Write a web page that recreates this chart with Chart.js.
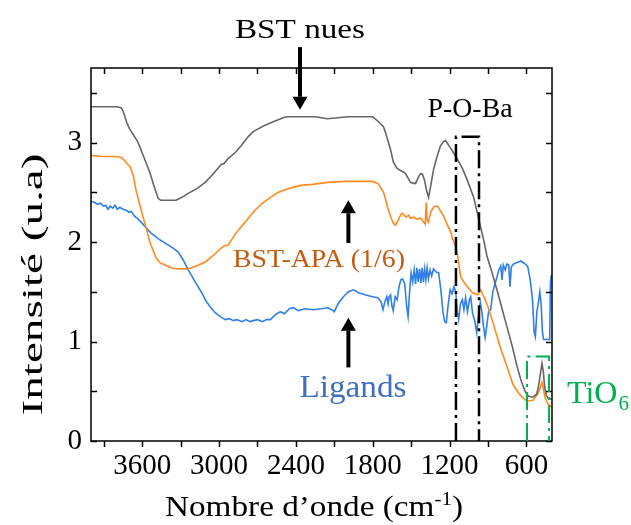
<!DOCTYPE html>
<html>
<head>
<meta charset="utf-8">
<script src="https://cdn.jsdelivr.net/npm/chart.js@4.4.1/dist/chart.umd.min.js"></script>
<style>
	html, body { margin: 0; padding: 0; background: #fff; }
</style>
</head>
<body>
<canvas id="graph" width="631" height="525"></canvas>
<script>
// wavenumbers (cm-1) and intensities
const wnNues = [4000, 3900, 3800, 3765, 3750, 3720, 3700, 3680, 3660, 3632, 3580, 3538, 3500, 3476, 3455, 3400, 3335, 3290, 3241, 3170, 3108, 3050, 2983, 2960, 2930, 2873, 2820, 2772, 2733, 2650, 2576, 2500, 2467, 2365, 2250, 2154, 2110, 2000, 1896, 1800, 1755, 1716, 1700, 1677, 1661, 1638, 1610, 1583, 1545, 1505, 1480, 1465, 1440, 1426, 1411, 1395, 1380, 1364, 1345, 1325, 1300, 1270, 1246, 1231, 1200, 1150, 1100, 1064, 1012, 970, 930, 908, 870, 830, 790, 752, 710, 673, 640, 610, 583, 550, 520, 505, 490, 478, 468, 458, 445, 430, 400];
const intNues = [3.36, 3.36, 3.36, 3.35, 3.32, 3.20, 3.14, 3.10, 3.06, 3.0, 2.83, 2.69, 2.53, 2.44, 2.42, 2.42, 2.42, 2.45, 2.49, 2.54, 2.60, 2.68, 2.78, 2.79, 2.84, 2.90, 2.98, 3.06, 3.11, 3.17, 3.21, 3.25, 3.26, 3.26, 3.26, 3.24, 3.245, 3.26, 3.26, 3.26, 3.21, 3.16, 3.10, 3.0, 2.93, 2.80, 2.74, 2.72, 2.69, 2.60, 2.59, 2.59, 2.66, 2.69, 2.68, 2.62, 2.52, 2.45, 2.58, 2.73, 2.85, 2.97, 3.01, 3.02, 2.96, 2.86, 2.74, 2.63, 2.45, 2.22, 2.0, 1.86, 1.70, 1.52, 1.33, 1.15, 0.95, 0.75, 0.60, 0.50, 0.45, 0.44, 0.47, 0.55, 0.68, 0.78, 0.70, 0.55, 0.46, 0.43, 0.42];

const wnApa = [4000, 3900, 3800, 3765, 3745, 3720, 3695, 3670, 3648, 3620, 3593, 3565, 3538, 3510, 3491, 3460, 3421, 3370, 3319, 3260, 3218, 3160, 3108, 3050, 2983, 2960, 2928, 2890, 2850, 2810, 2772, 2720, 2662, 2600, 2537, 2450, 2365, 2271, 2154, 2013, 1896, 1802, 1760, 1739, 1716, 1700, 1680, 1661, 1640, 1622, 1600, 1580, 1567, 1540, 1520, 1505, 1480, 1460, 1426, 1400, 1390, 1382, 1375, 1365, 1345, 1320, 1293, 1270, 1246, 1220, 1191, 1176, 1150, 1137, 1113, 1074, 1020, 981, 957, 935, 900, 861, 806, 752, 705, 660, 634, 595, 548, 509, 490, 478, 468, 455, 430, 400];
const intApa = [2.87, 2.86, 2.86, 2.85, 2.83, 2.79, 2.76, 2.67, 2.52, 2.38, 2.25, 2.12, 1.99, 1.90, 1.84, 1.79, 1.77, 1.74, 1.73, 1.73, 1.74, 1.77, 1.80, 1.86, 1.94, 1.96, 1.97, 2.05, 2.12, 2.18, 2.24, 2.32, 2.39, 2.45, 2.50, 2.54, 2.57, 2.58, 2.60, 2.61, 2.61, 2.61, 2.59, 2.55, 2.50, 2.43, 2.33, 2.26, 2.19, 2.17, 2.22, 2.28, 2.29, 2.25, 2.27, 2.24, 2.25, 2.23, 2.24, 2.20, 2.18, 2.40, 2.22, 2.20, 2.31, 2.36, 2.36, 2.31, 2.26, 2.18, 2.10, 2.03, 1.95, 1.86, 1.65, 1.57, 1.49, 1.47, 1.52, 1.46, 1.35, 1.19, 0.95, 0.75, 0.57, 0.48, 0.44, 0.40, 0.41, 0.48, 0.54, 0.59, 0.53, 0.44, 0.37, 0.34];

const wnLig = [4000, 3975, 3950, 3925, 3900, 3885, 3867, 3850, 3830, 3812, 3795, 3775, 3750, 3725, 3705, 3687, 3660, 3640, 3609, 3580, 3560, 3531, 3500, 3470, 3421, 3370, 3319, 3280, 3241, 3200, 3163, 3130, 3108, 3070, 3030, 2990, 2952, 2920, 2889, 2860, 2820, 2790, 2760, 2733, 2700, 2660, 2630, 2600, 2560, 2521, 2490, 2450, 2420, 2380, 2330, 2263, 2200, 2154, 2120, 2100, 2070, 2029, 1990, 1950, 1911, 1860, 1802, 1760, 1735, 1720, 1705, 1690, 1680, 1672, 1661, 1650, 1640, 1625, 1610, 1595, 1580, 1567, 1550, 1535, 1524, 1512, 1500, 1488, 1476, 1466, 1455, 1445, 1434, 1424, 1414, 1404, 1394, 1385, 1375, 1365, 1352, 1340, 1325, 1305, 1285, 1268, 1252, 1238, 1225, 1212, 1195, 1180, 1165, 1152, 1140, 1129, 1115, 1100, 1088, 1075, 1060, 1045, 1035, 1020, 1005, 988, 975, 960, 948, 935, 922, 910, 895, 879, 862, 845, 830, 815, 800, 790, 780, 765, 752, 738, 728, 718, 700, 683, 660, 644, 620, 600, 589, 570, 552, 540, 530, 518, 505, 495, 485, 475, 466, 450, 430, 418, 412, 405, 400];
const intLig = [2.41, 2.40, 2.38, 2.39, 2.36, 2.37, 2.33, 2.36, 2.34, 2.37, 2.33, 2.35, 2.33, 2.32, 2.30, 2.31, 2.26, 2.24, 2.20, 2.16, 2.13, 2.09, 2.06, 2.03, 1.99, 1.95, 1.90, 1.82, 1.72, 1.63, 1.55, 1.48, 1.42, 1.35, 1.29, 1.25, 1.22, 1.23, 1.21, 1.22, 1.20, 1.22, 1.20, 1.21, 1.22, 1.20, 1.22, 1.22, 1.27, 1.30, 1.28, 1.33, 1.34, 1.31, 1.33, 1.32, 1.33, 1.34, 1.32, 1.30, 1.38, 1.45, 1.50, 1.52, 1.49, 1.47, 1.45, 1.44, 1.40, 1.32, 1.40, 1.45, 1.38, 1.45, 1.47, 1.36, 1.31, 1.45, 1.42, 1.55, 1.62, 1.63, 1.58, 1.35, 1.25, 1.50, 1.69, 1.60, 1.72, 1.58, 1.74, 1.60, 1.73, 1.59, 1.74, 1.60, 1.73, 1.62, 1.74, 1.63, 1.72, 1.66, 1.73, 1.70, 1.69, 1.52, 1.30, 1.20, 1.19, 1.36, 1.52, 1.48, 1.55, 1.50, 1.30, 1.22, 1.38, 1.42, 1.32, 1.44, 1.30, 1.42, 1.45, 1.28, 1.22, 1.09, 1.25, 1.39, 1.30, 1.15, 1.04, 1.15, 1.30, 1.32, 1.50, 1.58, 1.65, 1.72, 1.76, 1.62, 1.77, 1.72, 1.78, 1.77, 1.55, 1.75, 1.78, 1.79, 1.80, 1.81, 1.79, 1.77, 1.75, 1.62, 1.42, 1.10, 1.05, 1.30, 1.40, 1.50, 1.38, 1.10, 1.02, 1.02, 1.02, 1.02, 1.60, 1.66, 1.67];

const xTickValues = [600, 900, 1200, 1500, 1800, 2100, 2400, 2700, 3000, 3300, 3600, 3900];
const yTickValues = [0, 0.5, 1, 1.5, 2, 2.5, 3, 3.5];

// annotations, in data units
const labels = [
	{ text: 'BST nues', w: 2368, v: 4.05, size: 28, width: 130, color: '#000' },
	{ text: 'P-O-Ba', w: 1040, v: 3.26, size: 28, width: 85, color: '#000' },
	{ text: 'BST-APA (1/6)', w: 2220, v: 1.75, size: 26, width: 172, color: '#C55A11' },
	{ text: 'Ligands', w: 1954, v: 0.44, size: 32, width: 107, color: '#3F6FBF' },
];
const arrows = [
	{ w: 2368, from: 3.96, to: 3.33 },
	{ w: 1990, from: 1.99, to: 2.42 },
	{ w: 1990, from: 0.74, to: 1.24 },
];
const boxes = [
	{ w1: 1150, w2: 970, top: 3.06, color: '#000', lw: 2.5 },
	{ w1: 595, w2: 423, top: 0.85, color: '#00B050', lw: 2 },
];

const SERIF = '"Liberation Serif", "Times New Roman", serif';

const pts = (xs, ys) => xs.map((x, i) => ({ x: x, y: ys[i] }));

function stretchText(ctx, str, x, y, size, width, align) {
	ctx.font = size + 'px ' + SERIF;
	const nat = ctx.measureText(str).width;
	ctx.save();
	ctx.translate(x, y);
	ctx.scale(width / nat, 1);
	ctx.textAlign = align || 'center';
	ctx.textBaseline = 'alphabetic';
	ctx.fillText(str, 0, 0);
	ctx.restore();
}

function arrow(ctx, x, y0, y1) {
	const dir = y1 > y0 ? 1 : -1;
	const head = 13;
	ctx.save();
	ctx.strokeStyle = '#000';
	ctx.fillStyle = '#000';
	ctx.lineWidth = 4;
	ctx.beginPath();
	ctx.moveTo(x, y0);
	ctx.lineTo(x, y1 - dir * head);
	ctx.stroke();
	ctx.beginPath();
	ctx.moveTo(x - 7.5, y1 - dir * head);
	ctx.lineTo(x + 7.5, y1 - dir * head);
	ctx.lineTo(x, y1);
	ctx.closePath();
	ctx.fill();
	ctx.restore();
}

const decor = {
	id: 'decor',
	afterDraw(chart) {
		const ctx = chart.ctx;
		const xs = chart.scales.x;
		const ys = chart.scales.y;
		const a = chart.chartArea;

		ctx.save();
		// frame + ticks
		ctx.strokeStyle = '#000';
		ctx.lineWidth = 1.5;
		ctx.strokeRect(a.left, a.top, a.right - a.left, a.bottom - a.top);
		ctx.beginPath();
		xTickValues.forEach((v) => {
			const px = Math.round(xs.getPixelForValue(v)) + 0.5;
			ctx.moveTo(px, a.bottom);
			ctx.lineTo(px, a.bottom + 6);
			ctx.moveTo(px, a.top);
			ctx.lineTo(px, a.top + 6);
		});
		yTickValues.forEach((v) => {
			const py = Math.round(ys.getPixelForValue(v)) + 0.5;
			ctx.moveTo(a.left, py);
			ctx.lineTo(a.left + 6, py);
			ctx.moveTo(a.right, py);
			ctx.lineTo(a.right - 6, py);
		});
		ctx.stroke();

		// dash-dot boxes
		boxes.forEach((b) => {
			const l = xs.getPixelForValue(b.w1);
			const r = xs.getPixelForValue(b.w2);
			const t = ys.getPixelForValue(b.top);
			const bt = a.bottom;
			ctx.strokeStyle = b.color;
			ctx.lineWidth = b.lw;
			ctx.setLineDash([18, 5, 3, 5]);
			ctx.beginPath();
			ctx.moveTo(l, bt);
			ctx.lineTo(l, t);
			ctx.lineTo(r, t);
			ctx.lineTo(r, bt);
			ctx.stroke();
			ctx.setLineDash([]);
		});

		// arrows
		arrows.forEach((ar) => {
			arrow(ctx, xs.getPixelForValue(ar.w), ys.getPixelForValue(ar.from), ys.getPixelForValue(ar.to));
		});

		// labels
		labels.forEach((lb) => {
			ctx.fillStyle = lb.color;
			stretchText(ctx, lb.text, xs.getPixelForValue(lb.w), ys.getPixelForValue(lb.v), lb.size, lb.width);
		});

		// TiO6
		ctx.fillStyle = '#00B050';
		const tx = xs.getPixelForValue(283);
		const ty = ys.getPixelForValue(0.38);
		ctx.font = '32px ' + SERIF;
		ctx.textAlign = 'left';
		ctx.textBaseline = 'alphabetic';
		ctx.fillText('TiO', tx, ty);
		const tw = ctx.measureText('TiO').width;
		ctx.font = '21px ' + SERIF;
		ctx.fillText('6', tx + tw + 1, ty + 7);

		// axis titles
		ctx.fillStyle = '#000';
		ctx.save();
		ctx.translate(42, (a.top + a.bottom) / 2 + 30);
		ctx.rotate(-Math.PI / 2);
		stretchText(ctx, 'Intensité (u.a)', 0, 0, 29, 262);
		ctx.restore();

		// x title with superscript
		const base = 516;
		const startX = 165;
		const target = 298;
		ctx.font = '30px ' + SERIF;
		const w1 = ctx.measureText('Nombre d\u2019onde (cm').width;
		ctx.font = '19px ' + SERIF;
		const w2 = ctx.measureText('-1').width;
		ctx.font = '30px ' + SERIF;
		const w3 = ctx.measureText(')').width;
		const k = target / (w1 + w2 + w3);
		ctx.save();
		ctx.translate(startX, base);
		ctx.scale(k, 1);
		ctx.textAlign = 'left';
		ctx.font = '30px ' + SERIF;
		ctx.fillText('Nombre d\u2019onde (cm', 0, 0);
		ctx.font = '19px ' + SERIF;
		ctx.fillText('-1', w1, -11);
		ctx.font = '30px ' + SERIF;
		ctx.fillText(')', w1 + w2, 0);
		ctx.restore();

		ctx.restore();
	},
};

const data = {
	datasets: [
		{
			label: 'BST nues',
			data: pts(wnNues, intNues),
			borderColor: '#666666',
			borderWidth: 1.6,
		},
		{
			label: 'BST-APA (1/6)',
			data: pts(wnApa, intApa),
			borderColor: '#FF8A1E',
			borderWidth: 1.6,
		},
		{
			label: 'Ligands',
			data: pts(wnLig, intLig),
			borderColor: '#2F7FE6',
			borderWidth: 1.6,
		},
	],
};

const config = {
	type: 'line',
	data: data,
	options: {
		responsive: false,
		animation: false,
		layout: { padding: { top: 68, right: 79, left: 0, bottom: 0 } },
		elements: { point: { radius: 0 }, line: { tension: 0, fill: false } },
		scales: {
			x: {
				type: 'linear',
				reverse: true,
				min: 400,
				max: 4000,
				grid: { display: false, drawTicks: false },
				border: { display: false },
				afterBuildTicks: (s) => {
					s.ticks = xTickValues.map((v) => ({ value: v }));
				},
				afterFit: (s) => {
					s.height = 84;
				},
				ticks: {
					color: '#000',
					font: { family: SERIF, size: 29 },
					padding: 8,
					maxRotation: 0,
					autoSkip: false,
					callback: (v) => (v % 600 === 0 ? String(v) : ''),
				},
			},
			y: {
				min: 0,
				max: 3.75,
				grid: { display: false, drawTicks: false },
				border: { display: false },
				afterBuildTicks: (s) => {
					s.ticks = yTickValues.map((v) => ({ value: v }));
				},
				afterFit: (s) => {
					s.width = 91;
				},
				ticks: {
					color: '#000',
					font: { family: SERIF, size: 29 },
					padding: 9,
					autoSkip: false,
					callback: (v) => (Number.isInteger(v) ? String(v) : ''),
				},
			},
		},
		plugins: {
			legend: { display: false },
			tooltip: { enabled: false },
		},
	},
	plugins: [decor],
};

const c = new Chart(document.getElementById('graph'), config);
</script>
</body>
</html>
